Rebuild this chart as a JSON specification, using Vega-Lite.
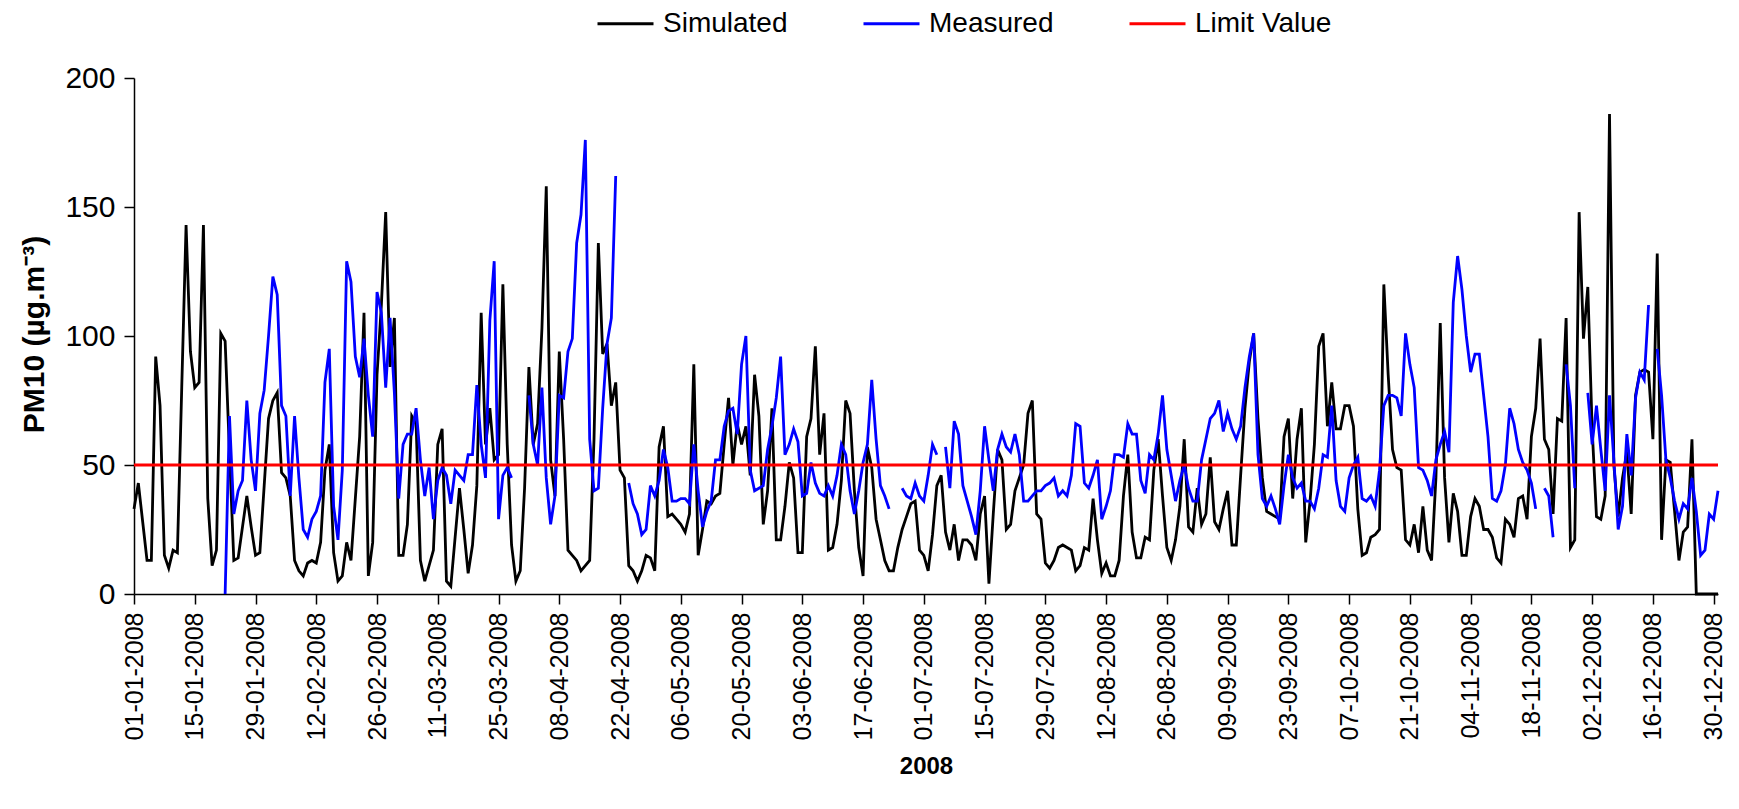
{
"$schema": "https://vega.github.io/schema/vega-lite/v6.json",
"width": 1584, "height": 516,
"autosize": {"type": "none"},
"padding": {"left": 134, "top": 78, "right": 21, "bottom": 215},
"background": "white",
"config": {"view": {"stroke": null}, "font": "Liberation Sans",
 "axis": {"domainColor": "#000", "tickColor": "#000", "labelColor": "#000", "titleColor": "#000", "grid": false, "domainWidth": 1.5, "tickWidth": 1.5, "labelFont": "Liberation Sans", "titleFont": "Liberation Sans"},
 "legend": {"labelFont": "Liberation Sans"}},
"datasets": {
"pm": [
{"date":"2008-01-01","Simulated":33,"Measured":null},{"date":"2008-01-02","Simulated":43,"Measured":null},{"date":"2008-01-03","Simulated":28,"Measured":null},{"date":"2008-01-04","Simulated":13,"Measured":null},{"date":"2008-01-05","Simulated":13,"Measured":null},{"date":"2008-01-06","Simulated":92,"Measured":null},{"date":"2008-01-07","Simulated":73,"Measured":null},{"date":"2008-01-08","Simulated":15,"Measured":null},{"date":"2008-01-09","Simulated":10,"Measured":null},{"date":"2008-01-10","Simulated":17,"Measured":null},{"date":"2008-01-11","Simulated":16,"Measured":null},{"date":"2008-01-12","Simulated":80,"Measured":null},{"date":"2008-01-13","Simulated":143,"Measured":null},{"date":"2008-01-14","Simulated":94,"Measured":null},{"date":"2008-01-15","Simulated":80,"Measured":null},{"date":"2008-01-16","Simulated":82,"Measured":null},{"date":"2008-01-17","Simulated":143,"Measured":null},{"date":"2008-01-18","Simulated":37,"Measured":null},{"date":"2008-01-19","Simulated":11,"Measured":null},{"date":"2008-01-20","Simulated":17,"Measured":null},{"date":"2008-01-21","Simulated":101,"Measured":null},{"date":"2008-01-22","Simulated":98,"Measured":0},{"date":"2008-01-23","Simulated":55,"Measured":69},{"date":"2008-01-24","Simulated":13,"Measured":31},{"date":"2008-01-25","Simulated":14,"Measured":40},{"date":"2008-01-26","Simulated":26,"Measured":44},{"date":"2008-01-27","Simulated":38,"Measured":75},{"date":"2008-01-28","Simulated":26,"Measured":52},{"date":"2008-01-29","Simulated":15,"Measured":40},{"date":"2008-01-30","Simulated":16,"Measured":70},{"date":"2008-01-31","Simulated":42,"Measured":79},
{"date":"2008-02-01","Simulated":68,"Measured":100},{"date":"2008-02-02","Simulated":75,"Measured":123},{"date":"2008-02-03","Simulated":78,"Measured":116},{"date":"2008-02-04","Simulated":47,"Measured":73},{"date":"2008-02-05","Simulated":45,"Measured":69},{"date":"2008-02-06","Simulated":38,"Measured":38},{"date":"2008-02-07","Simulated":13,"Measured":69},{"date":"2008-02-08","Simulated":9,"Measured":45},{"date":"2008-02-09","Simulated":7,"Measured":25},{"date":"2008-02-10","Simulated":12,"Measured":22},{"date":"2008-02-11","Simulated":13,"Measured":29},{"date":"2008-02-12","Simulated":12,"Measured":32},{"date":"2008-02-13","Simulated":20,"Measured":38},{"date":"2008-02-14","Simulated":48,"Measured":82},{"date":"2008-02-15","Simulated":58,"Measured":95},{"date":"2008-02-16","Simulated":16,"Measured":34},{"date":"2008-02-17","Simulated":5,"Measured":21},{"date":"2008-02-18","Simulated":7,"Measured":48},{"date":"2008-02-19","Simulated":20,"Measured":129},{"date":"2008-02-20","Simulated":13,"Measured":121},{"date":"2008-02-21","Simulated":37,"Measured":92},{"date":"2008-02-22","Simulated":61,"Measured":84},{"date":"2008-02-23","Simulated":109,"Measured":99},{"date":"2008-02-24","Simulated":7,"Measured":77},{"date":"2008-02-25","Simulated":20,"Measured":61},{"date":"2008-02-26","Simulated":85,"Measured":117},{"date":"2008-02-27","Simulated":112,"Measured":109},{"date":"2008-02-28","Simulated":148,"Measured":80},{"date":"2008-02-29","Simulated":88,"Measured":107},
{"date":"2008-03-01","Simulated":107,"Measured":78},{"date":"2008-03-02","Simulated":15,"Measured":37},{"date":"2008-03-03","Simulated":15,"Measured":58},{"date":"2008-03-04","Simulated":27,"Measured":62},{"date":"2008-03-05","Simulated":69,"Measured":62},{"date":"2008-03-06","Simulated":66,"Measured":72},{"date":"2008-03-07","Simulated":13,"Measured":52},{"date":"2008-03-08","Simulated":5,"Measured":38},{"date":"2008-03-09","Simulated":11,"Measured":49},{"date":"2008-03-10","Simulated":17,"Measured":29},{"date":"2008-03-11","Simulated":58,"Measured":44},{"date":"2008-03-12","Simulated":64,"Measured":49},{"date":"2008-03-13","Simulated":5,"Measured":46},{"date":"2008-03-14","Simulated":3,"Measured":35},{"date":"2008-03-15","Simulated":22,"Measured":48},{"date":"2008-03-16","Simulated":41,"Measured":46},{"date":"2008-03-17","Simulated":25,"Measured":44},{"date":"2008-03-18","Simulated":8,"Measured":54},{"date":"2008-03-19","Simulated":19,"Measured":54},{"date":"2008-03-20","Simulated":42,"Measured":81},{"date":"2008-03-21","Simulated":109,"Measured":58},{"date":"2008-03-22","Simulated":58,"Measured":45},{"date":"2008-03-23","Simulated":72,"Measured":106},{"date":"2008-03-24","Simulated":52,"Measured":129},{"date":"2008-03-25","Simulated":54,"Measured":29},{"date":"2008-03-26","Simulated":120,"Measured":46},{"date":"2008-03-27","Simulated":58,"Measured":49},{"date":"2008-03-28","Simulated":19,"Measured":45},{"date":"2008-03-29","Simulated":5,"Measured":null},{"date":"2008-03-30","Simulated":9,"Measured":null},{"date":"2008-03-31","Simulated":41,"Measured":null},
{"date":"2008-04-01","Simulated":88,"Measured":77},{"date":"2008-04-02","Simulated":58,"Measured":58},{"date":"2008-04-03","Simulated":66,"Measured":50},{"date":"2008-04-04","Simulated":103,"Measured":80},{"date":"2008-04-05","Simulated":158,"Measured":45},{"date":"2008-04-06","Simulated":52,"Measured":27},{"date":"2008-04-07","Simulated":38,"Measured":38},{"date":"2008-04-08","Simulated":94,"Measured":77},{"date":"2008-04-09","Simulated":60,"Measured":76},{"date":"2008-04-10","Simulated":17,"Measured":94},{"date":"2008-04-11","Simulated":15,"Measured":99},{"date":"2008-04-12","Simulated":13,"Measured":136},{"date":"2008-04-13","Simulated":9,"Measured":147},{"date":"2008-04-14","Simulated":11,"Measured":176},{"date":"2008-04-15","Simulated":13,"Measured":60},{"date":"2008-04-16","Simulated":60,"Measured":40},{"date":"2008-04-17","Simulated":136,"Measured":41},{"date":"2008-04-18","Simulated":93,"Measured":72},{"date":"2008-04-19","Simulated":97,"Measured":97},{"date":"2008-04-20","Simulated":73,"Measured":107},{"date":"2008-04-21","Simulated":82,"Measured":162},{"date":"2008-04-22","Simulated":48,"Measured":null},{"date":"2008-04-23","Simulated":45,"Measured":null},{"date":"2008-04-24","Simulated":11,"Measured":43},{"date":"2008-04-25","Simulated":9,"Measured":35},{"date":"2008-04-26","Simulated":5,"Measured":31},{"date":"2008-04-27","Simulated":9,"Measured":23},{"date":"2008-04-28","Simulated":15,"Measured":25},{"date":"2008-04-29","Simulated":14,"Measured":42},{"date":"2008-04-30","Simulated":9,"Measured":38},
{"date":"2008-05-01","Simulated":57,"Measured":44},{"date":"2008-05-02","Simulated":65,"Measured":56},{"date":"2008-05-03","Simulated":30,"Measured":49},{"date":"2008-05-04","Simulated":31,"Measured":36},{"date":"2008-05-05","Simulated":29,"Measured":36},{"date":"2008-05-06","Simulated":27,"Measured":37},{"date":"2008-05-07","Simulated":24,"Measured":37},{"date":"2008-05-08","Simulated":31,"Measured":35},{"date":"2008-05-09","Simulated":89,"Measured":58},{"date":"2008-05-10","Simulated":15,"Measured":40},{"date":"2008-05-11","Simulated":25,"Measured":26},{"date":"2008-05-12","Simulated":36,"Measured":32},{"date":"2008-05-13","Simulated":35,"Measured":36},{"date":"2008-05-14","Simulated":38,"Measured":52},{"date":"2008-05-15","Simulated":39,"Measured":52},{"date":"2008-05-16","Simulated":58,"Measured":65},{"date":"2008-05-17","Simulated":76,"Measured":71},{"date":"2008-05-18","Simulated":50,"Measured":72},{"date":"2008-05-19","Simulated":66,"Measured":62},{"date":"2008-05-20","Simulated":58,"Measured":89},{"date":"2008-05-21","Simulated":65,"Measured":100},{"date":"2008-05-22","Simulated":46,"Measured":48},{"date":"2008-05-23","Simulated":85,"Measured":40},{"date":"2008-05-24","Simulated":69,"Measured":41},{"date":"2008-05-25","Simulated":27,"Measured":42},{"date":"2008-05-26","Simulated":40,"Measured":56},{"date":"2008-05-27","Simulated":72,"Measured":65},{"date":"2008-05-28","Simulated":21,"Measured":76},{"date":"2008-05-29","Simulated":21,"Measured":92},{"date":"2008-05-30","Simulated":34,"Measured":54},{"date":"2008-05-31","Simulated":51,"Measured":58},
{"date":"2008-06-01","Simulated":45,"Measured":64},{"date":"2008-06-02","Simulated":16,"Measured":59},{"date":"2008-06-03","Simulated":16,"Measured":38},{"date":"2008-06-04","Simulated":61,"Measured":39},{"date":"2008-06-05","Simulated":68,"Measured":51},{"date":"2008-06-06","Simulated":96,"Measured":43},{"date":"2008-06-07","Simulated":54,"Measured":39},{"date":"2008-06-08","Simulated":70,"Measured":38},{"date":"2008-06-09","Simulated":17,"Measured":42},{"date":"2008-06-10","Simulated":18,"Measured":38},{"date":"2008-06-11","Simulated":27,"Measured":46},{"date":"2008-06-12","Simulated":44,"Measured":58},{"date":"2008-06-13","Simulated":75,"Measured":54},{"date":"2008-06-14","Simulated":70,"Measured":40},{"date":"2008-06-15","Simulated":40,"Measured":31},{"date":"2008-06-16","Simulated":18,"Measured":40},{"date":"2008-06-17","Simulated":7,"Measured":51},{"date":"2008-06-18","Simulated":57,"Measured":58},{"date":"2008-06-19","Simulated":49,"Measured":83},{"date":"2008-06-20","Simulated":29,"Measured":60},{"date":"2008-06-21","Simulated":21,"Measured":42},{"date":"2008-06-22","Simulated":13,"Measured":38},{"date":"2008-06-23","Simulated":9,"Measured":33},{"date":"2008-06-24","Simulated":9,"Measured":null},{"date":"2008-06-25","Simulated":18,"Measured":null},{"date":"2008-06-26","Simulated":25,"Measured":41},{"date":"2008-06-27","Simulated":30,"Measured":38},{"date":"2008-06-28","Simulated":35,"Measured":37},{"date":"2008-06-29","Simulated":36,"Measured":43},{"date":"2008-06-30","Simulated":17,"Measured":38},
{"date":"2008-07-01","Simulated":15,"Measured":36},{"date":"2008-07-02","Simulated":9,"Measured":46},{"date":"2008-07-03","Simulated":23,"Measured":58},{"date":"2008-07-04","Simulated":42,"Measured":54},{"date":"2008-07-05","Simulated":46,"Measured":null},{"date":"2008-07-06","Simulated":24,"Measured":57},{"date":"2008-07-07","Simulated":17,"Measured":41},{"date":"2008-07-08","Simulated":27,"Measured":67},{"date":"2008-07-09","Simulated":13,"Measured":62},{"date":"2008-07-10","Simulated":21,"Measured":42},{"date":"2008-07-11","Simulated":21,"Measured":36},{"date":"2008-07-12","Simulated":19,"Measured":30},{"date":"2008-07-13","Simulated":13,"Measured":23},{"date":"2008-07-14","Simulated":31,"Measured":40},{"date":"2008-07-15","Simulated":38,"Measured":65},{"date":"2008-07-16","Simulated":4,"Measured":52},{"date":"2008-07-17","Simulated":31,"Measured":40},{"date":"2008-07-18","Simulated":56,"Measured":56},{"date":"2008-07-19","Simulated":52,"Measured":62},{"date":"2008-07-20","Simulated":25,"Measured":57},{"date":"2008-07-21","Simulated":27,"Measured":55},{"date":"2008-07-22","Simulated":40,"Measured":62},{"date":"2008-07-23","Simulated":45,"Measured":54},{"date":"2008-07-24","Simulated":50,"Measured":36},{"date":"2008-07-25","Simulated":70,"Measured":36},{"date":"2008-07-26","Simulated":75,"Measured":38},{"date":"2008-07-27","Simulated":31,"Measured":40},{"date":"2008-07-28","Simulated":29,"Measured":40},{"date":"2008-07-29","Simulated":12,"Measured":42},{"date":"2008-07-30","Simulated":10,"Measured":43},{"date":"2008-07-31","Simulated":13,"Measured":45},
{"date":"2008-08-01","Simulated":18,"Measured":38},{"date":"2008-08-02","Simulated":19,"Measured":40},{"date":"2008-08-03","Simulated":18,"Measured":38},{"date":"2008-08-04","Simulated":17,"Measured":46},{"date":"2008-08-05","Simulated":9,"Measured":66},{"date":"2008-08-06","Simulated":11,"Measured":65},{"date":"2008-08-07","Simulated":18,"Measured":43},{"date":"2008-08-08","Simulated":17,"Measured":41},{"date":"2008-08-09","Simulated":37,"Measured":46},{"date":"2008-08-10","Simulated":21,"Measured":52},{"date":"2008-08-11","Simulated":8,"Measured":29},{"date":"2008-08-12","Simulated":12,"Measured":34},{"date":"2008-08-13","Simulated":7,"Measured":40},{"date":"2008-08-14","Simulated":7,"Measured":54},{"date":"2008-08-15","Simulated":13,"Measured":54},{"date":"2008-08-16","Simulated":38,"Measured":53},{"date":"2008-08-17","Simulated":54,"Measured":66},{"date":"2008-08-18","Simulated":24,"Measured":62},{"date":"2008-08-19","Simulated":14,"Measured":62},{"date":"2008-08-20","Simulated":14,"Measured":44},{"date":"2008-08-21","Simulated":22,"Measured":39},{"date":"2008-08-22","Simulated":21,"Measured":54},{"date":"2008-08-23","Simulated":48,"Measured":52},{"date":"2008-08-24","Simulated":60,"Measured":62},{"date":"2008-08-25","Simulated":38,"Measured":77},{"date":"2008-08-26","Simulated":18,"Measured":56},{"date":"2008-08-27","Simulated":13,"Measured":46},{"date":"2008-08-28","Simulated":21,"Measured":36},{"date":"2008-08-29","Simulated":34,"Measured":44},{"date":"2008-08-30","Simulated":60,"Measured":50},{"date":"2008-08-31","Simulated":26,"Measured":41},
{"date":"2008-09-01","Simulated":24,"Measured":36},{"date":"2008-09-02","Simulated":41,"Measured":36},{"date":"2008-09-03","Simulated":27,"Measured":52},{"date":"2008-09-04","Simulated":31,"Measured":60},{"date":"2008-09-05","Simulated":53,"Measured":68},{"date":"2008-09-06","Simulated":28,"Measured":70},{"date":"2008-09-07","Simulated":25,"Measured":75},{"date":"2008-09-08","Simulated":33,"Measured":63},{"date":"2008-09-09","Simulated":40,"Measured":70},{"date":"2008-09-10","Simulated":19,"Measured":64},{"date":"2008-09-11","Simulated":19,"Measured":60},{"date":"2008-09-12","Simulated":46,"Measured":65},{"date":"2008-09-13","Simulated":72,"Measured":80},{"date":"2008-09-14","Simulated":90,"Measured":92},{"date":"2008-09-15","Simulated":101,"Measured":101},{"date":"2008-09-16","Simulated":68,"Measured":54},{"date":"2008-09-17","Simulated":45,"Measured":37},{"date":"2008-09-18","Simulated":32,"Measured":34},{"date":"2008-09-19","Simulated":31,"Measured":38},{"date":"2008-09-20","Simulated":30,"Measured":33},{"date":"2008-09-21","Simulated":29,"Measured":27},{"date":"2008-09-22","Simulated":61,"Measured":42},{"date":"2008-09-23","Simulated":68,"Measured":54},{"date":"2008-09-24","Simulated":37,"Measured":45},{"date":"2008-09-25","Simulated":60,"Measured":41},{"date":"2008-09-26","Simulated":72,"Measured":43},{"date":"2008-09-27","Simulated":20,"Measured":36},{"date":"2008-09-28","Simulated":36,"Measured":36},{"date":"2008-09-29","Simulated":58,"Measured":33},{"date":"2008-09-30","Simulated":96,"Measured":41},
{"date":"2008-10-01","Simulated":101,"Measured":54},{"date":"2008-10-02","Simulated":65,"Measured":53},{"date":"2008-10-03","Simulated":82,"Measured":73},{"date":"2008-10-04","Simulated":64,"Measured":44},{"date":"2008-10-05","Simulated":64,"Measured":34},{"date":"2008-10-06","Simulated":73,"Measured":32},{"date":"2008-10-07","Simulated":73,"Measured":45},{"date":"2008-10-08","Simulated":65,"Measured":50},{"date":"2008-10-09","Simulated":33,"Measured":53},{"date":"2008-10-10","Simulated":15,"Measured":37},{"date":"2008-10-11","Simulated":16,"Measured":36},{"date":"2008-10-12","Simulated":22,"Measured":38},{"date":"2008-10-13","Simulated":23,"Measured":34},{"date":"2008-10-14","Simulated":25,"Measured":48},{"date":"2008-10-15","Simulated":120,"Measured":73},{"date":"2008-10-16","Simulated":85,"Measured":77},{"date":"2008-10-17","Simulated":56,"Measured":77},{"date":"2008-10-18","Simulated":49,"Measured":76},{"date":"2008-10-19","Simulated":48,"Measured":69},{"date":"2008-10-20","Simulated":21,"Measured":101},{"date":"2008-10-21","Simulated":19,"Measured":89},{"date":"2008-10-22","Simulated":27,"Measured":80},{"date":"2008-10-23","Simulated":16,"Measured":49},{"date":"2008-10-24","Simulated":34,"Measured":48},{"date":"2008-10-25","Simulated":17,"Measured":44},{"date":"2008-10-26","Simulated":13,"Measured":38},{"date":"2008-10-27","Simulated":45,"Measured":52},{"date":"2008-10-28","Simulated":105,"Measured":58},{"date":"2008-10-29","Simulated":45,"Measured":63},{"date":"2008-10-30","Simulated":20,"Measured":55},{"date":"2008-10-31","Simulated":39,"Measured":113},
{"date":"2008-11-01","Simulated":32,"Measured":131},{"date":"2008-11-02","Simulated":15,"Measured":118},{"date":"2008-11-03","Simulated":15,"Measured":100},{"date":"2008-11-04","Simulated":30,"Measured":86},{"date":"2008-11-05","Simulated":37,"Measured":93},{"date":"2008-11-06","Simulated":34,"Measured":93},{"date":"2008-11-07","Simulated":25,"Measured":77},{"date":"2008-11-08","Simulated":25,"Measured":61},{"date":"2008-11-09","Simulated":22,"Measured":37},{"date":"2008-11-10","Simulated":14,"Measured":36},{"date":"2008-11-11","Simulated":12,"Measured":40},{"date":"2008-11-12","Simulated":29,"Measured":50},{"date":"2008-11-13","Simulated":27,"Measured":72},{"date":"2008-11-14","Simulated":22,"Measured":66},{"date":"2008-11-15","Simulated":37,"Measured":56},{"date":"2008-11-16","Simulated":38,"Measured":51},{"date":"2008-11-17","Simulated":29,"Measured":48},{"date":"2008-11-18","Simulated":61,"Measured":43},{"date":"2008-11-19","Simulated":72,"Measured":33},{"date":"2008-11-20","Simulated":99,"Measured":null},{"date":"2008-11-21","Simulated":60,"Measured":41},{"date":"2008-11-22","Simulated":56,"Measured":38},{"date":"2008-11-23","Simulated":31,"Measured":22},{"date":"2008-11-24","Simulated":68,"Measured":null},{"date":"2008-11-25","Simulated":67,"Measured":null},{"date":"2008-11-26","Simulated":107,"Measured":89},{"date":"2008-11-27","Simulated":18,"Measured":73},{"date":"2008-11-28","Simulated":21,"Measured":41},{"date":"2008-11-29","Simulated":148,"Measured":null},{"date":"2008-11-30","Simulated":99,"Measured":null},
{"date":"2008-12-01","Simulated":119,"Measured":78},{"date":"2008-12-02","Simulated":64,"Measured":58},{"date":"2008-12-03","Simulated":30,"Measured":73},{"date":"2008-12-04","Simulated":29,"Measured":56},{"date":"2008-12-05","Simulated":38,"Measured":40},{"date":"2008-12-06","Simulated":186,"Measured":77},{"date":"2008-12-07","Simulated":50,"Measured":52},{"date":"2008-12-08","Simulated":30,"Measured":25},{"date":"2008-12-09","Simulated":45,"Measured":34},{"date":"2008-12-10","Simulated":55,"Measured":62},{"date":"2008-12-11","Simulated":31,"Measured":46},{"date":"2008-12-12","Simulated":77,"Measured":76},{"date":"2008-12-13","Simulated":86,"Measured":86},{"date":"2008-12-14","Simulated":87,"Measured":83},{"date":"2008-12-15","Simulated":86,"Measured":112},{"date":"2008-12-16","Simulated":60,"Measured":null},{"date":"2008-12-17","Simulated":132,"Measured":95},{"date":"2008-12-18","Simulated":21,"Measured":77},{"date":"2008-12-19","Simulated":52,"Measured":52},{"date":"2008-12-20","Simulated":51,"Measured":45},{"date":"2008-12-21","Simulated":32,"Measured":36},{"date":"2008-12-22","Simulated":13,"Measured":29},{"date":"2008-12-23","Simulated":24,"Measured":35},{"date":"2008-12-24","Simulated":26,"Measured":33},{"date":"2008-12-25","Simulated":60,"Measured":45},{"date":"2008-12-26","Simulated":0,"Measured":32},{"date":"2008-12-27","Simulated":0,"Measured":15},{"date":"2008-12-28","Simulated":0,"Measured":17},{"date":"2008-12-29","Simulated":0,"Measured":31},{"date":"2008-12-30","Simulated":0,"Measured":29},{"date":"2008-12-31","Simulated":0,"Measured":40}
],
"limit": [{"date":"2008-01-01","value":50},{"date":"2008-12-31","value":50}]
},
"encoding": {
 "x": {"field": "date", "type": "temporal",
  "scale": {"type": "utc", "domain": [{"year":2008,"month":1,"date":1,"utc":true},{"year":2008,"month":12,"date":31,"utc":true}]},
  "axis": {"values": [
   {"year":2008,"month":1,"date":1,"utc":true},{"year":2008,"month":1,"date":15,"utc":true},{"year":2008,"month":1,"date":29,"utc":true},
   {"year":2008,"month":2,"date":12,"utc":true},{"year":2008,"month":2,"date":26,"utc":true},{"year":2008,"month":3,"date":11,"utc":true},
   {"year":2008,"month":3,"date":25,"utc":true},{"year":2008,"month":4,"date":8,"utc":true},{"year":2008,"month":4,"date":22,"utc":true},
   {"year":2008,"month":5,"date":6,"utc":true},{"year":2008,"month":5,"date":20,"utc":true},{"year":2008,"month":6,"date":3,"utc":true},
   {"year":2008,"month":6,"date":17,"utc":true},{"year":2008,"month":7,"date":1,"utc":true},{"year":2008,"month":7,"date":15,"utc":true},
   {"year":2008,"month":7,"date":29,"utc":true},{"year":2008,"month":8,"date":12,"utc":true},{"year":2008,"month":8,"date":26,"utc":true},
   {"year":2008,"month":9,"date":9,"utc":true},{"year":2008,"month":9,"date":23,"utc":true},{"year":2008,"month":10,"date":7,"utc":true},
   {"year":2008,"month":10,"date":21,"utc":true},{"year":2008,"month":11,"date":4,"utc":true},{"year":2008,"month":11,"date":18,"utc":true},
   {"year":2008,"month":12,"date":2,"utc":true},{"year":2008,"month":12,"date":16,"utc":true},{"year":2008,"month":12,"date":30,"utc":true}],
   "labelExpr": "utcFormat(datum.value, '%d-%m-%Y')", "labelAngle": -90, "labelAlign": "right", "labelBaseline": "middle",
   "labelFontSize": 25, "labelPadding": 8, "tickSize": 10, "labelOverlap": false, "labelBound": false, "labelFlush": false,
   "title": "2008", "titleFontSize": 24, "titleFontWeight": "bold", "titleY": 172, "titleBaseline": "middle"}
 }
},
"layer": [
 {"data": {"name": "pm"},
  "mark": {"type": "line", "strokeWidth": 2.8, "invalid": "break-paths-filter-domains"},
  "encoding": {
   "y": {"field": "Simulated", "type": "quantitative", "scale": {"domain": [0, 200]},
    "axis": {"values": [0, 50, 100, 150, 200], "labelFontSize": 30, "labelPadding": 9, "tickSize": 10,
     "title": "PM10 (µg.m⁻³)", "titleFontSize": 30, "titleFontWeight": "bold", "titleX": -100, "titleY": 256, "titleAngle": -90, "titleAlign": "center", "titleBaseline": "middle"}},
   "color": {"datum": "Simulated", "type": "nominal",
    "scale": {"domain": ["Simulated", "Measured", "Limit Value"], "range": ["#000000", "#0000ff", "#ff0000"]},
    "legend": {"orient": "none", "legendX": 462, "legendY": -84, "direction": "horizontal", "title": null,
     "symbolType": "stroke", "symbolSize": 3136, "symbolStrokeWidth": 3, "labelFontSize": 28, "labelOffset": 8,
     "gridAlign": "all", "columnPadding": 57, "padding": 0, "labelColor": "#000"}}
  }},
 {"data": {"name": "pm"},
  "mark": {"type": "line", "strokeWidth": 2.8, "invalid": "break-paths-filter-domains"},
  "encoding": {
   "y": {"field": "Measured", "type": "quantitative", "title": "PM10 (µg.m⁻³)"},
   "color": {"datum": "Measured", "type": "nominal"}
  }},
 {"data": {"name": "limit"},
  "mark": {"type": "line", "strokeWidth": 2.8},
  "encoding": {
   "y": {"field": "value", "type": "quantitative", "title": "PM10 (µg.m⁻³)"},
   "color": {"datum": "Limit Value", "type": "nominal"}
  }}
]
}
